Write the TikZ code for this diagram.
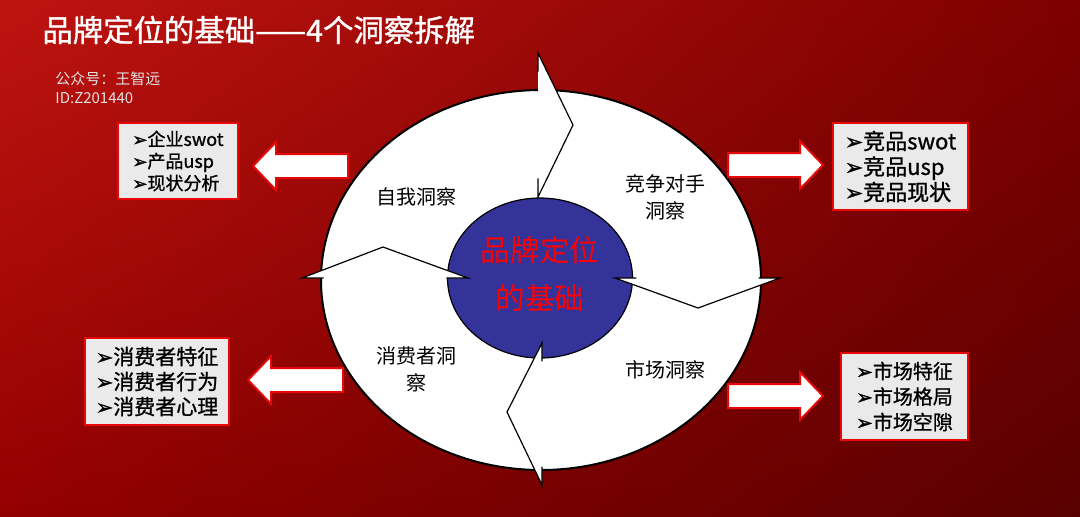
\documentclass[tikz,border=0pt]{standalone}
\usepackage{fontspec}
\setmainfont{Noto Sans CJK SC}
\newfontfamily\medcjk{Noto Sans CJK SC}[FakeBold=1]
\newfontfamily\symb{DejaVu Sans}[FakeBold=1.5]
\usepackage{tikz}
\usetikzlibrary{shapes.geometric,shadings,positioning,calc}

\definecolor{bgtl}{HTML}{BE1410}
\definecolor{bgtr}{HTML}{7E0000}
\definecolor{bgbl}{HTML}{940000}
\definecolor{bgbr}{HTML}{580000}
\definecolor{coreblue}{HTML}{333399}
\definecolor{boxgray}{HTML}{EAEAEA}
\definecolor{boxred}{HTML}{E80808}
\definecolor{subgray}{HTML}{E2E2E2}
\newcommand{\arrbullet}{{\symb ➢}}

\begin{document}
\begin{tikzpicture}[x=0.5pt,y=-0.5pt,every node/.style={inner sep=0pt},
    listbox/.style={draw=boxred,line width=1pt,fill=boxgray,align=left},
    quad/.style={font=\fontsize{10}{13.5}\selectfont,align=center},
    fat/.style={draw=boxred,line width=1pt,fill=white,line join=miter}]
   \useasboundingbox (0,0) rectangle (1080,516);
   \shade[upper left=bgtl,upper right=bgtr,lower left=bgbl,lower right=bgbr]
      (0,0) rectangle (1080,516);
   % title
   \node[anchor=west,text=white,font=\medcjk\fontsize{15.2}{18}\selectfont] (title) at (42,30)
      {品牌定位的基础——4个洞察拆解};
   \node[anchor=west,text=subgray,font=\fontsize{7.5}{9.5}\selectfont,align=left] (wechat) at (55,88)
      {公众号：王智远\\ID:Z201440};
   % ring and core
   \node[ellipse,draw=black,line width=1pt,fill=white,minimum width=220pt,minimum height=190pt] (ring) at (541,280) {};
   \node[ellipse,draw=black,line width=0.6pt,fill=coreblue,minimum width=92.5pt,minimum height=80pt] (core) at (540,278) {};
   % arrow heads of the cycle
   \foreach \ox/\oy/\tx/\ty/\ix/\iy in {538/53/573/125/538/197, 780/278/698/308/615/278,
                                        542/485/507/412/542/343, 302/278/383/247/468/278}{
      \fill[white] (\ox,\oy) -- (\tx,\ty) -- (\ix,\iy) -- cycle;
      \draw[line width=0.6pt] ($(\ox,\oy)!0.13!(\ix,\iy)$) -- (\ox,\oy) -- (\tx,\ty) -- (\ix,\iy)
         -- ($(\ix,\iy)!0.13!(\ox,\oy)$);
   }
   \node[text=red,font=\fontsize{14.8}{24}\selectfont,align=center] (brand) at ([yshift=2pt]core) {品牌定位\\的基础};
   \node[quad] (self) at (416,197) {自我洞察};
   \node[quad] (rival) at (665,197) {竞争对手\\洞察};
   \node[quad] (user) at (416,369) {消费者洞\\察};
   \node[quad] (market) at (665,370) {市场洞察};
   % block arrows
   \foreach \tx/\ty/\d in {253/166/1, 248/380/1, 823/165/-1, 823/396/-1}
      \draw[fat,shift={(\tx,\ty)},xscale=\d] (0,0) -- (23,-24) -- (23,-12) -- (95,-12)
         -- (95,12) -- (23,12) -- (23,24) -- cycle;
   % lists
   \node[listbox,minimum width=60pt,minimum height=38pt,font=\medcjk\fontsize{9}{11}\selectfont] (selfbox) at (178,161)
      {\arrbullet{}企业swot\\\arrbullet{}产品usp\\\arrbullet{}现状分析};
   \node[listbox,minimum width=67.5pt,minimum height=43.5pt,font=\medcjk\fontsize{11}{12.75}\selectfont] (rivalbox) at (900.5,166.5)
      {\arrbullet{}竞品swot\\\arrbullet{}竞品usp\\\arrbullet{}竞品现状};
   \node[listbox,minimum width=72pt,minimum height=43.5pt,font=\medcjk\fontsize{10.5}{12.5}\selectfont] (userbox) at (157,381.5)
      {\arrbullet{}消费者特征\\\arrbullet{}消费者行为\\\arrbullet{}消费者心理};
   \node[listbox,minimum width=63.5pt,minimum height=43.5pt,font=\medcjk\fontsize{10}{12.75}\selectfont] (marketbox) at (904.5,396.5)
      {\arrbullet{}市场特征\\\arrbullet{}市场格局\\\arrbullet{}市场空隙};
\end{tikzpicture}
\end{document}
